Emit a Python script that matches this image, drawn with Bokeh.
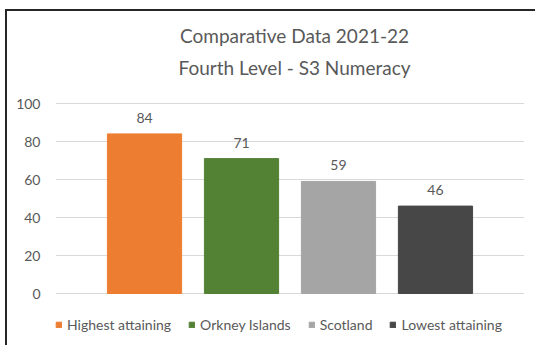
from bokeh.plotting import figure
from bokeh.models import (ColumnDataSource, FactorRange, Range1d, LabelSet, Label,
                          Legend, LegendItem, FixedTicker)
from bokeh.core.properties import value
from bokeh.embed import file_html
from bokeh.resources import INLINE

categories = ["Highest attaining", "Orkney Islands", "Scotland", "Lowest attaining"]
values = [84, 71, 59, 46]
colors = ["#ED7D31", "#548235", "#A5A5A5", "#474747"]
y_ticks = [0, 20, 40, 60, 80, 100]
title_lines = ["Comparative Data 2021-22", "Fourth Level - S3 Numeracy"]

FONT = "Lato"
TXT = "#595959"

src = ColumnDataSource(dict(cat=categories, val=values, color=colors,
                            lab=[str(v) for v in values]))

W, H = 530, 336
# frame spans full height; 0 sits 54 px above the bottom, 100 sits 92 px below the top
PX = (H - 54 - 92) / 100.0
p = figure(width=W, height=H, output_backend="svg", toolbar_location=None,
           x_range=FactorRange(factors=categories, range_padding=0.209),
           y_range=Range1d(-54 / PX, 100 + 92 / PX),
           min_border_left=48, min_border_right=13, min_border_top=0, min_border_bottom=0)
p.styles = {"margin-left": "5px", "margin-top": "9px",
            "border-left": "2px solid #262626", "border-top": "2px solid #262626"}

p.background_fill_color = "white"
p.border_fill_color = "white"
p.outline_line_color = None

r = p.vbar(x="cat", top="val", width=0.765, color="color", source=src)

p.xaxis.visible = False
p.xgrid.visible = False
p.yaxis.ticker = FixedTicker(ticks=y_ticks)
p.ygrid.grid_line_color = "#D9D9D9"
p.ygrid.grid_line_width = 1
p.yaxis.axis_line_color = None
p.yaxis.major_tick_line_color = None
p.yaxis.minor_tick_line_color = None
p.yaxis.major_label_standoff = 9
p.yaxis.major_label_text_font = FONT
p.yaxis.major_label_text_font_size = "14px"
p.yaxis.major_label_text_color = TXT

labels = LabelSet(x="cat", y="val", text="lab", source=src, y_offset=11,
                  text_align="center", text_baseline="alphabetic",
                  text_font=value(FONT), text_font_size=value("14px"), text_color=value(TXT))
p.add_layout(labels)

for line, ybase in zip(title_lines, [312, 280]):
    p.add_layout(Label(x=239, y=ybase, x_units="screen", y_units="screen",
                       text=line, text_align="center", text_baseline="alphabetic",
                       text_font=FONT, text_font_size="19px", text_color=TXT))

items = []
for i, c in enumerate(categories):
    items.append(LegendItem(label=c, renderers=[r], index=i))
legend = Legend(items=items, orientation="horizontal", location=(0, 14),
                glyph_width=7, glyph_height=7, label_text_font=FONT,
                label_text_font_size="14px", label_text_color=TXT,
                border_line_color=None, background_fill_alpha=0,
                padding=0, margin=0, spacing=17, label_standoff=5)
p.add_layout(legend)

open("out.html", "w").write(file_html(p, INLINE))
